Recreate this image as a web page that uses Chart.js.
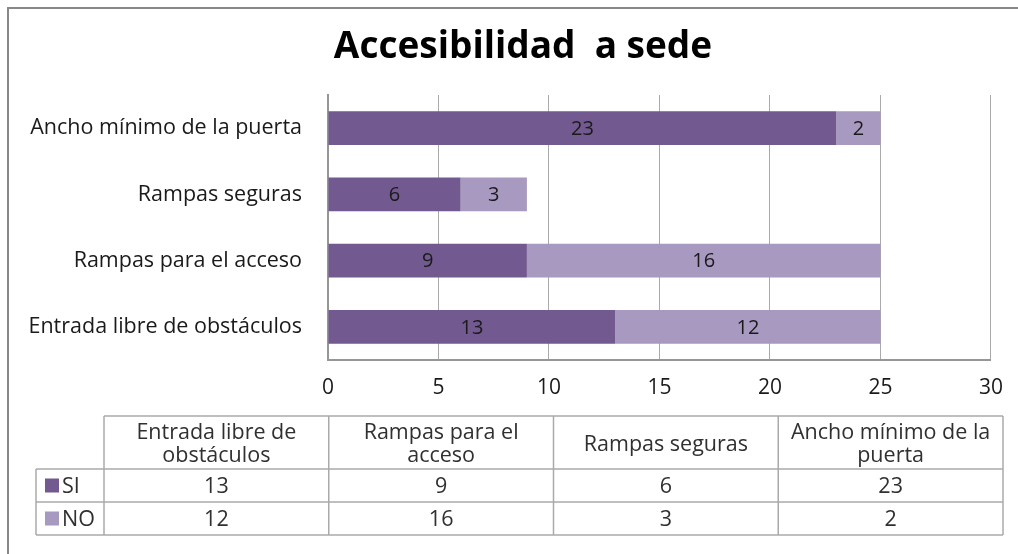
<!DOCTYPE html>
<html>
<head>
<meta charset="utf-8">
<script src="https://cdn.jsdelivr.net/npm/chart.js@4"></script>
<style>
  html, body { margin: 0; padding: 0; background: #ffffff; overflow: hidden; }
  #chart_div { position: relative; width: 1018px; height: 554px; overflow: hidden; }
</style>
</head>
<body>
<div id="chart_div"><canvas id="access_chart_cnv" width="1018" height="554"></canvas></div>
<script>
// Accesibilidad a sede: stacked horizontal bars plus a data table under them.

const categories = ["Entrada libre de obstáculos", "Rampas para el acceso", "Rampas seguras", "Ancho mínimo de la puerta"];
const table_headers = [["Entrada libre de", "obstáculos"], ["Rampas para el", "acceso"], ["Rampas seguras"], ["Ancho mínimo de la", "puerta"]];
const si_values = [13, 9, 6, 23];
const no_values = [12, 16, 3, 2];
const series_names = ["SI", "NO"];
const x_ticks = [0, 5, 10, 15, 20, 25, 30];

const si_color = "rgb(114, 89, 143)";
const no_color = "rgb(168, 153, 192)";
const grid_color = "rgb(170, 170, 170)";
const text_color = "rgb(26, 26, 26)";
const font_family = "'Open Sans', sans-serif";

// draws frame, title, bar values and the data table
const extras_plugin = {
    id: "extras",
    beforeDraw(chart) {
        const ctx = chart.ctx;
        ctx.save();
        ctx.fillStyle = "#ffffff";
        ctx.fillRect(0, 0, chart.width, chart.height);
        ctx.strokeStyle = "rgb(136, 136, 136)";
        ctx.lineWidth = 2;
        ctx.beginPath();
        ctx.moveTo(8, chart.height);
        ctx.lineTo(8, 8);
        ctx.lineTo(chart.width, 8);
        ctx.stroke();
        ctx.restore();
    },
    afterDraw(chart) {
        const ctx = chart.ctx;
        ctx.save();

        // title
        ctx.fillStyle = "#000000";
        ctx.font = "bold 37px " + font_family;
        ctx.textAlign = "center";
        ctx.textBaseline = "middle";
        ctx.fillText("Accesibilidad  a sede", 523, 47);

        // value labels in the middle of each bar piece
        ctx.font = "20px " + font_family;
        ctx.fillStyle = text_color;
        chart.data.datasets.forEach(function (ds, i) {
            chart.getDatasetMeta(i).data.forEach(function (bar, j) {
                ctx.fillText(String(ds.data[j]), (bar.x + bar.base) / 2, bar.y + 1);
            });
        });

        // data table
        const left = 36, col0 = 104, right = 1003;
        const top = 416, row1 = 469, row2 = 502, bottom = 535;
        const col_w = (right - col0) / categories.length;
        ctx.strokeStyle = grid_color;
        ctx.lineWidth = 1.5;
        ctx.beginPath();
        ctx.moveTo(col0, top); ctx.lineTo(right, top);
        ctx.moveTo(left, row1); ctx.lineTo(right, row1);
        ctx.moveTo(left, row2); ctx.lineTo(right, row2);
        ctx.moveTo(left, bottom); ctx.lineTo(right, bottom);
        ctx.moveTo(left, row1); ctx.lineTo(left, bottom);
        for (let c = 0; c <= categories.length; c++) {
            ctx.moveTo(col0 + c * col_w, top); ctx.lineTo(col0 + c * col_w, bottom);
        }
        ctx.stroke();

        ctx.fillStyle = "rgb(48, 48, 48)";
        ctx.font = "21.5px " + font_family;
        table_headers.forEach(function (lines, c) {
            const cx = col0 + (c + 0.5) * col_w;
            const cy = (top + row1) / 2 + 2;
            lines.forEach(function (line, k) {
                ctx.fillText(line, cx, cy + (k - (lines.length - 1) / 2) * 23);
            });
        });
        [si_values, no_values].forEach(function (vals, r) {
            const cy = r === 0 ? (row1 + row2) / 2 : (row2 + bottom) / 2;
            vals.forEach(function (v, c) {
                ctx.fillText(String(v), col0 + (c + 0.5) * col_w, cy + 1);
            });
            ctx.fillStyle = r === 0 ? si_color : no_color;
            ctx.fillRect(45, cy - 7, 14, 14);
            ctx.fillStyle = "rgb(48, 48, 48)";
            ctx.textAlign = "left";
            ctx.fillText(series_names[r], 62, cy + 1);
            ctx.textAlign = "center";
        });

        ctx.restore();
    }
};

const chart_cnv = document.getElementById("access_chart_cnv").getContext("2d");

const access_chart = new Chart(chart_cnv, {
    type: "bar",
    data: {
        labels: categories,
        datasets: [
            {label: series_names[0], data: si_values, backgroundColor: si_color, barPercentage: 0.51, categoryPercentage: 1},
            {label: series_names[1], data: no_values, backgroundColor: no_color, barPercentage: 0.51, categoryPercentage: 1}
        ]
    },
    options: {
        indexAxis: "y",
        responsive: false,
        animation: false,
        layout: {padding: {left: 0, right: 26, top: 95, bottom: 0}},
        plugins: {
            legend: {display: false},
            title: {display: false},
            tooltip: {enabled: false}
        },
        scales: {
            x: {
                stacked: true,
                min: 0,
                max: 30,
                afterBuildTicks: function (scale) {
                    scale.ticks = x_ticks.map(function (v) { return {value: v}; });
                },
                afterFit: function (scale) { scale.height = 554 - 360; },
                grid: {color: grid_color, lineWidth: 1, drawTicks: false},
                border: {color: "rgb(150, 150, 150)", width: 2},
                ticks: {color: text_color, font: {family: font_family, size: 21}, padding: 15, maxRotation: 0}
            },
            y: {
                stacked: true,
                reverse: true,
                afterFit: function (scale) { scale.width = 328; },
                grid: {display: false, drawTicks: false},
                border: {color: "rgb(150, 150, 150)", width: 2},
                ticks: {color: text_color, font: {family: font_family, size: 21.5}, padding: 26}
            }
        }
    },
    plugins: [extras_plugin]
});
</script>
</body>
</html>
